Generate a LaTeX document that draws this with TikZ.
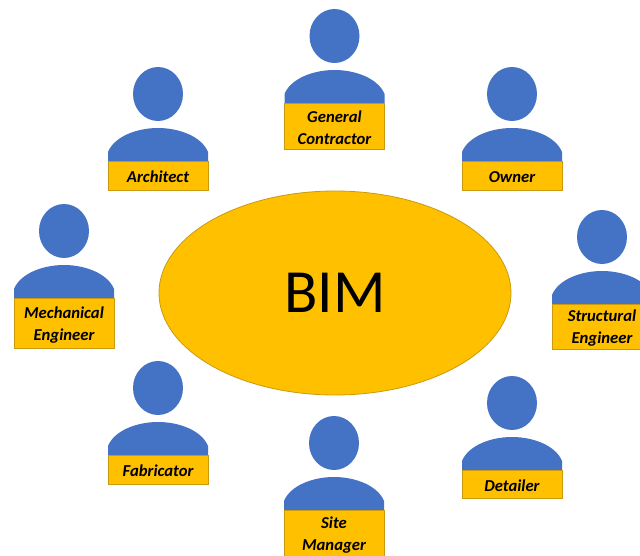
\documentclass[tikz,border=0pt]{standalone}
\usepackage{fontspec}
\usetikzlibrary{shapes.geometric}
\setmainfont{Carlito}
\definecolor{headblue}{HTML}{4472C4}
\definecolor{bimgold}{HTML}{FFC000}
\definecolor{bimedge}{HTML}{C99A10}

% #1 name, #2 centre x, #3 top of the tag, #4 height of the tag, #5 text
\newcommand{\person}[5]{
    \node[headnode] (#1head) at (#2,#3-67) {};
    \fill[headblue] (#2-50,#3) -- (#2-50,#3-9) .. controls (#2-44,#3-24) and (#2-22,#3-33) .. (#2,#3-33)
        .. controls (#2+22,#3-33) and (#2+44,#3-24) .. (#2+50,#3-9) -- (#2+50,#3) -- cycle;
    \node[tagnode,minimum height=#4*0.75pt] (#1) at (#2,#3+#4/2) {};
    \node[tagtext] (#1text) at (#2,#3+#4/2+1.6) {#5};
}

\begin{document}
\begin{tikzpicture}[x=0.75pt,y=-0.75pt,
    headnode/.style={fill=headblue,ellipse,minimum width=37.5pt,minimum height=40.5pt,inner sep=0pt},
    tagnode/.style={fill=bimgold,draw=bimedge,line width=0.6pt,minimum width=75pt,inner sep=0pt},
    tagtext/.style={inner sep=0pt,align=center,font=\fontsize{12.5}{16.5}\selectfont\bfseries\itshape},
    bimnode/.style={fill=bimgold,draw=bimedge,line width=0.6pt,ellipse,minimum width=264pt,minimum height=153pt,
        inner sep=0pt,font=\fontsize{46}{46}\selectfont}]
    \useasboundingbox (0,0) rectangle (640,556);
    \clip (0,0) rectangle (640,556);

    \node[bimnode] (bim) at (335,293) {BIM};

    \person{contractor}{334.5}{103}{46}{General\\Contractor}
    \person{architect}{158}{161}{29}{Architect}
    \person{owner}{512}{161}{29}{Owner}
    \person{mechanical}{64}{298}{50}{Mechanical\\Engineer}
    \person{structural}{602}{304}{45}{Structural\\Engineer}
    \person{fabricator}{158}{455}{29}{Fabricator}
    \person{detailer}{512}{470}{28}{Detailer}
    \person{manager}{334}{510}{46}{Site\\Manager}
\end{tikzpicture}
\end{document}
